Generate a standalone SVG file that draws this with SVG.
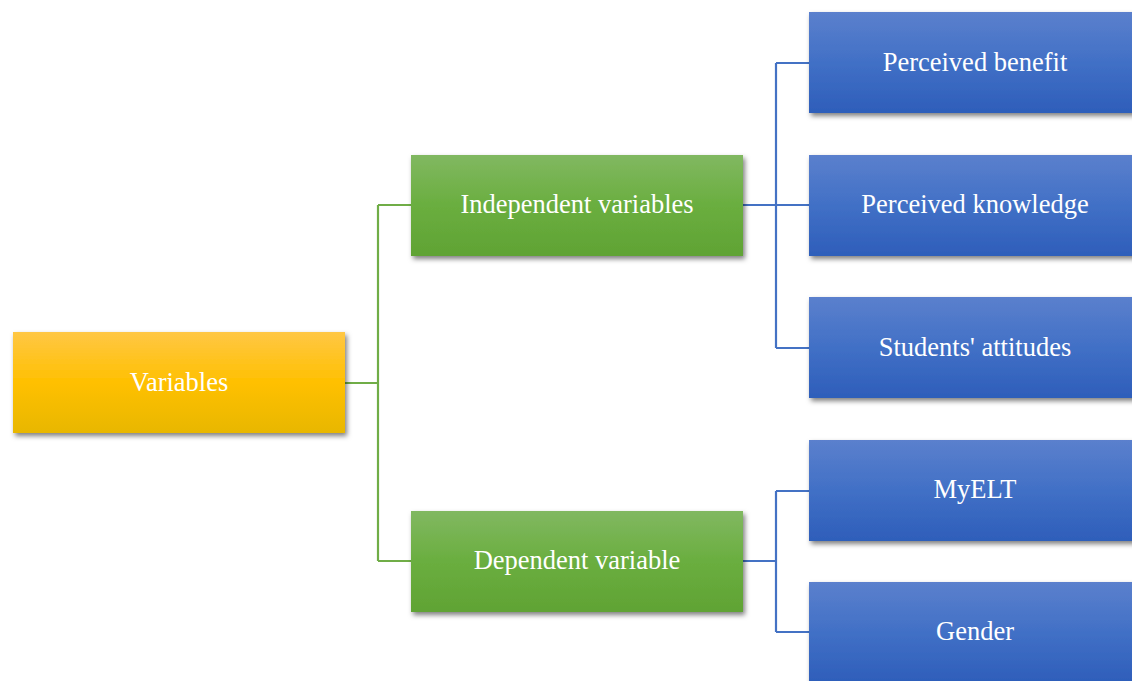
<svg xmlns="http://www.w3.org/2000/svg" width="1132" height="681" viewBox="0 0 1132 681">
<style>
.lbl{font-family:"Liberation Serif","Times New Roman",serif;font-size:26.5px;fill:#ffffff;text-anchor:middle;dominant-baseline:central}
.gl{stroke:#70AD47;stroke-width:2.2;fill:none}
.bl{stroke:#4472C4;stroke-width:2.2;fill:none}
</style>
<defs>
<linearGradient id="gy" x1="0" y1="0" x2="0" y2="1">
<stop offset="0" stop-color="#FFC745"/><stop offset="0.5" stop-color="#FFC000"/><stop offset="1" stop-color="#E8B700"/>
</linearGradient>
<linearGradient id="gg" x1="0" y1="0" x2="0" y2="1">
<stop offset="0" stop-color="#81B861"/><stop offset="0.5" stop-color="#6AAE3F"/><stop offset="1" stop-color="#60A334"/>
</linearGradient>
<linearGradient id="gb" x1="0" y1="0" x2="0" y2="1">
<stop offset="0" stop-color="#5B80CD"/><stop offset="0.5" stop-color="#4170C6"/><stop offset="1" stop-color="#2E5EBA"/>
</linearGradient>
<filter id="sh" x="-10%" y="-10%" width="125%" height="140%">
<feDropShadow dx="2" dy="3" stdDeviation="2.5" flood-color="#000" flood-opacity="0.5"/>
</filter>
</defs>
<g id="connectors">
<path class="gl" d="M345 383H378M378 205V561M378 205H411M378 561H411"/>
<path class="bl" d="M743 205H809M776 63V348M776 63H809M776 348H809"/>
<path class="bl" d="M743 561H776M776 491V632M776 491H809M776 632H809"/>
</g>
<g id="variables"><rect x="13" y="332" width="332" height="101" fill="url(#gy)" filter="url(#sh)"/><text class="lbl" x="179" y="382">Variables</text></g>
<g id="independent"><rect x="411" y="155" width="332" height="101" fill="url(#gg)" filter="url(#sh)"/><text class="lbl" x="577" y="204">Independent variables</text></g>
<g id="dependent"><rect x="411" y="511" width="332" height="101" fill="url(#gg)" filter="url(#sh)"/><text class="lbl" x="577" y="560">Dependent variable</text></g>
<g id="benefit"><rect x="809" y="12" width="332" height="101" fill="url(#gb)" filter="url(#sh)"/><text class="lbl" x="975" y="62">Perceived benefit</text></g>
<g id="knowledge"><rect x="809" y="155" width="332" height="101" fill="url(#gb)" filter="url(#sh)"/><text class="lbl" x="975" y="204">Perceived knowledge</text></g>
<g id="attitudes"><rect x="809" y="297" width="332" height="101" fill="url(#gb)" filter="url(#sh)"/><text class="lbl" x="975" y="347">Students' attitudes</text></g>
<g id="myelt"><rect x="809" y="440" width="332" height="101" fill="url(#gb)" filter="url(#sh)"/><text class="lbl" x="975" y="489">MyELT</text></g>
<g id="gender"><rect x="809" y="582" width="332" height="101" fill="url(#gb)" filter="url(#sh)"/><text class="lbl" x="975" y="631">Gender</text></g>
</svg>
